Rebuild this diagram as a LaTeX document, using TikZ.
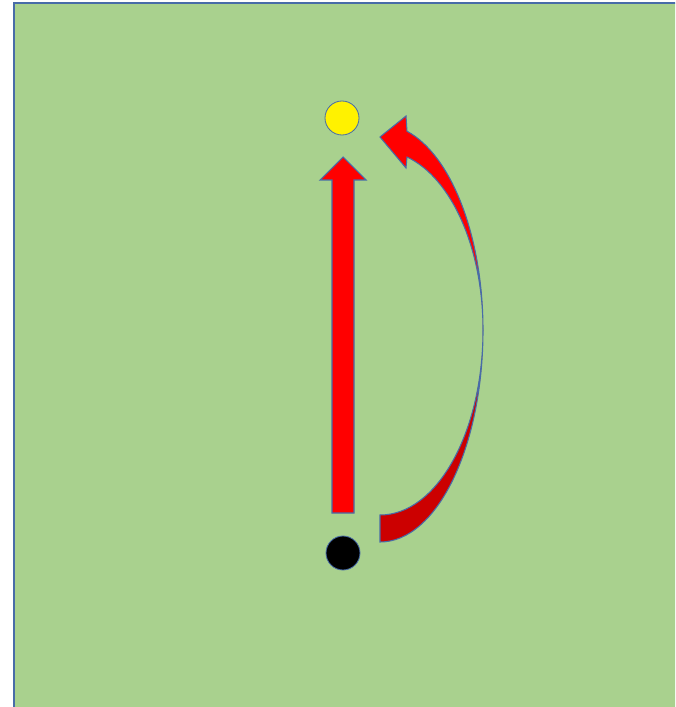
\documentclass[tikz,border=0pt]{standalone}
\usetikzlibrary{calc}
\definecolor{lawn}{RGB}{169,209,142}
\definecolor{edgeblue}{RGB}{72,108,168}
\definecolor{deepred}{RGB}{204,0,0}
\begin{document}
\begin{tikzpicture}[x=0.03cm, y=-0.03cm,
  dot/.style={draw=edgeblue, line width=0.7pt, circle, minimum size=1.02cm, inner sep=0pt},
  blockarrow/.style={draw=edgeblue, line width=0.9pt, line join=miter}]
\useasboundingbox (0,0) rectangle (675,707);
\clip (0,0) rectangle (675,707);
\fill[lawn, draw=edgeblue, line width=1.7pt] (14,3) rectangle (700,730);

\node[dot, fill=yellow] (goal) at (342,118) {};
\node[dot, fill=black] (start) at (343,553) {};

% straight arrow
\coordinate (tail) at (343,513);
\coordinate (tip) at (343,157);
\fill[red, blockarrow] ($(tail)+(-11,0)$) -- ($(tip)+(-11,23)$) -- ($(tip)+(-23,23)$) -- (tip)
  -- ($(tip)+(23,23)$) -- ($(tip)+(11,23)$) -- ($(tail)+(11,0)$) -- cycle;

% curved arrow, back part
\coordinate (bend) at (380,330);
\fill[deepred, blockarrow] ($(bend)+(0,185)$) -- ($(bend)+(0,212)$)
  arc[start angle=90, end angle=0, x radius=103, y radius=212]
  arc[start angle=0, end angle=90, x radius=103, y radius=185] -- cycle;
% curved arrow, front part with head
\fill[red, blockarrow] ($(bend)+(103,0)$)
  arc[start angle=0, end angle=-74.8, x radius=103, y radius=206]
  -- (406,116) -- (380,137) -- (406,168) -- (407,157)
  arc[start angle=-74.8, end angle=0, x radius=103, y radius=179] -- cycle;
\end{tikzpicture}
\end{document}
